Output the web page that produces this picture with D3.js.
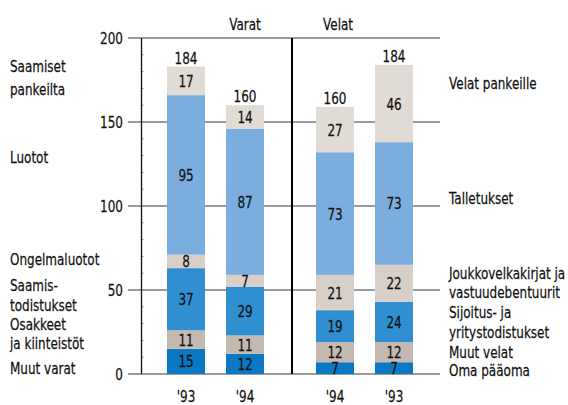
<!DOCTYPE html>
<html>
<head>
<meta charset="utf-8">
<script src="https://cdn.jsdelivr.net/npm/d3@7"></script>
<style>
  body { margin: 0; background: #fff; }
  text { font-family: "DejaVu Sans", sans-serif; fill: #111; stroke: #111; stroke-width: 0.25; }
</style>
</head>
<body>
<div id="chart"></div>
<script>
// Data
var years = ["'93", "'94", "'94", "'93"];
var totals = [184, 160, 160, 184];

// Varat (bottom to top), values for '93 and '94
var muutVarat = [15, 12];
var osakkeet = [11, 11];
var saamistodistukset = [37, 29];
var ongelmaluotot = [8, 7];
var luotot = [95, 87];
var saamisetPankeilta = [17, 14];

// Velat (bottom to top), values for '94 and '93
var omaPaaoma = [7, 7];
var muutVelat = [12, 12];
var sijoitus = [19, 24];
var joukkovelkakirjat = [21, 22];
var talletukset = [73, 73];
var velatPankeille = [27, 46];

var yTicks = [0, 50, 100, 150, 200];

var colors = ["#0a78c2", "#c3b9b1", "#2f8fd1", "#d8cfc9", "#7badde", "#e1dbd6"];

var width = 568, height = 405;
var squeeze = 0.75;   // narrow look of the original font
var fs = 16;

var svg = d3.select("#chart").append("svg")
    .attr("width", width)
    .attr("height", height);

var y = d3.scaleLinear().domain([0, 200]).range([374, 38]);
var x = d3.scaleOrdinal().domain([0, 1, 2, 3]).range([186, 245, 335, 394]);
var barW = 38;

function place(px, py) {
    return "translate(" + px + "," + py + ") scale(" + squeeze + ",1)";
}

// gridlines
svg.append("g").selectAll("line")
    .data(yTicks)
    .join("line")
    .attr("x1", 128).attr("x2", 440)
    .attr("y1", d => y(d)).attr("y2", d => y(d))
    .attr("stroke", "#7a7a7a")
    .attr("stroke-width", 1.3);

// tick labels
svg.append("g").selectAll("text")
    .data(yTicks)
    .join("text")
    .attr("transform", d => place(123, y(d) + 6))
    .attr("text-anchor", "end")
    .attr("font-size", fs)
    .text(d => d);

// minor ticks
svg.append("g").selectAll("line")
    .data(d3.range(10, 200, 10).filter(d => d % 50 != 0))
    .join("line")
    .attr("x1", 141).attr("x2", 143.5)
    .attr("y1", d => y(d)).attr("y2", d => y(d))
    .attr("stroke", "#888")
    .attr("stroke-width", 1);

// y axis
svg.append("line")
    .attr("x1", 141.5).attr("x2", 141.5)
    .attr("y1", y(200)).attr("y2", y(0))
    .attr("stroke", "#111").attr("stroke-width", 1.3);

// separator
svg.append("line")
    .attr("x1", 292).attr("x2", 292)
    .attr("y1", y(200)).attr("y2", y(0))
    .attr("stroke", "#000").attr("stroke-width", 2);

// stacks
var varatSeries = [muutVarat, osakkeet, saamistodistukset, ongelmaluotot, luotot, saamisetPankeilta];
var velatSeries = [omaPaaoma, muutVelat, sijoitus, joukkovelkakirjat, talletukset, velatPankeille];

var segments = [];
function addStacks(series, offset) {
    for (var b = 0; b < 2; b++) {
        var base = 0;
        series.forEach(function (s, i) {
            segments.push({bar: offset + b, y0: base, y1: base + s[b], value: s[b], color: colors[i]});
            base += s[b];
        });
    }
}
addStacks(varatSeries, 0);
addStacks(velatSeries, 2);

svg.append("g").selectAll("rect")
    .data(segments)
    .join("rect")
    .attr("x", d => x(d.bar) - barW / 2)
    .attr("width", barW)
    .attr("y", d => y(d.y1))
    .attr("height", d => y(d.y0) - y(d.y1))
    .attr("fill", d => d.color);

svg.append("g").selectAll("text")
    .data(segments)
    .join("text")
    .attr("transform", d => place(x(d.bar), (y(d.y0) + y(d.y1)) / 2 + 6))
    .attr("text-anchor", "middle")
    .attr("font-size", fs)
    .text(d => d.value);

// totals
svg.append("g").selectAll("text")
    .data(totals)
    .join("text")
    .attr("transform", (d, i) => place(x(i),
        y(i < 2 ? d3.sum(varatSeries, s => s[i]) : d3.sum(velatSeries, s => s[i - 2])) - 3))
    .attr("text-anchor", "middle")
    .attr("font-size", fs)
    .text(d => d);

// x labels
svg.append("g").selectAll("text")
    .data(years)
    .join("text")
    .attr("transform", (d, i) => place(x(i), 402))
    .attr("text-anchor", "middle")
    .attr("font-size", fs)
    .text(d => d);

// titles
svg.append("text").attr("transform", place(245, 30)).attr("text-anchor", "middle").attr("font-size", fs).text("Varat");
svg.append("text").attr("transform", place(338, 30)).attr("text-anchor", "middle").attr("font-size", fs).text("Velat");

// side labels
var leftLabels = [
    ["Saamiset", 66], ["pankeilta", 89], ["Luotot", 157], ["Ongelmaluotot", 259],
    ["Saamis-", 285], ["todistukset", 305], ["Osakkeet", 324], ["ja kiinteistöt", 343], ["Muut varat", 368]
];
var rightLabels = [
    ["Velat pankeille", 83], ["Talletukset", 198], ["Joukkovelkakirjat ja", 273], ["vastuudebentuurit", 292],
    ["Sijoitus- ja", 312], ["yritystodistukset", 332], ["Muut velat", 352], ["Oma pääoma", 370]
];

svg.append("g").selectAll("text")
    .data(leftLabels)
    .join("text")
    .attr("transform", d => place(10, d[1] + 6))
    .attr("font-size", fs)
    .text(d => d[0]);

svg.append("g").selectAll("text")
    .data(rightLabels)
    .join("text")
    .attr("transform", d => place(449, d[1] + 6))
    .attr("font-size", fs)
    .text(d => d[0]);
</script>
</body>
</html>
